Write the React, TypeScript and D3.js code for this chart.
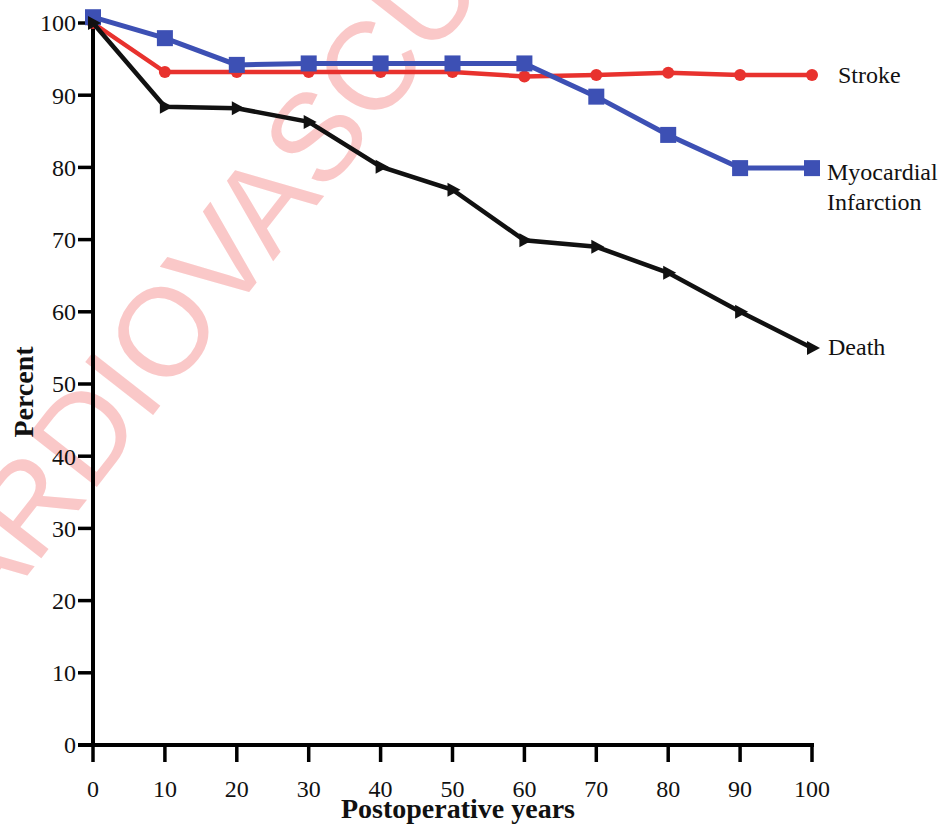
import React from "react";
import * as d3 from "d3";

const years = [0, 10, 20, 30, 40, 50, 60, 70, 80, 90, 100];
const strokeValues = [100, 93.2, 93.2, 93.2, 93.2, 93.2, 92.6, 92.8, 93.1, 92.8, 92.8];
const miValues = [100.8, 97.9, 94.2, 94.4, 94.4, 94.4, 94.4, 89.8, 84.5, 79.9, 79.9];
const deathValues = [100, 88.4, 88.2, 86.3, 80.1, 76.9, 69.9, 69.0, 65.4, 60.0, 55.0];
const xTicks = [0, 10, 20, 30, 40, 50, 60, 70, 80, 90, 100];
const yTicks = [0, 10, 20, 30, 40, 50, 60, 70, 80, 90, 100];

const W = 945;
const H = 825;
const serif = "'Liberation Serif', 'Times New Roman', serif";
const RED = "#e8322e";
const BLUE = "#3d50b4";
const BLACK = "#111";

export default function App() {
  const x = d3.scaleLinear().domain([0, 100]).range([93, 812]);
  const y = d3.scaleLinear().domain([0, 100]).range([745, 23]);
  const line = d3
    .line<[number, number]>()
    .x((d) => x(d[0]))
    .y((d) => y(d[1]));
  const pts = (vals: number[]) => years.map((t, i) => [t, vals[i]] as [number, number]);

  return (
    <svg
      width={W}
      height={H}
      style={{ position: "absolute", left: 0, top: 0, display: "block", background: "#fff" }}
    >
      <rect width={W} height={H} fill="#fff" />
      {/* watermark */}
      <text
        transform="translate(-72,703) rotate(-52)"
        fontFamily="'Liberation Sans', Arial, sans-serif"
        fontSize={125}
        fill="#fac8c8"
      >
        CARDIOVASCULAR
      </text>

      {/* axes */}
      <line x1={x(0)} x2={x(0)} y1={y(100) - 2} y2={y(0)} stroke="#000" strokeWidth={4} />
      <line x1={x(0) - 15} x2={x(100) + 2} y1={y(0)} y2={y(0)} stroke="#000" strokeWidth={4} />
      {yTicks.map((t) => (
        <g key={"y" + t}>
          <line x1={x(0) - 15} x2={x(0)} y1={y(t)} y2={y(t)} stroke="#000" strokeWidth={3.5} />
          <text
            x={x(0) - 17}
            y={y(t)}
            dy="0.35em"
            textAnchor="end"
            fontFamily={serif}
            fontSize={24}
            fill="#111"
          >
            {t}
          </text>
        </g>
      ))}
      {xTicks.map((t) => (
        <g key={"x" + t}>
          <line x1={x(t)} x2={x(t)} y1={y(0)} y2={y(0) + 17} stroke="#000" strokeWidth={3.5} />
          <text x={x(t)} y={797} textAnchor="middle" fontFamily={serif} fontSize={24} fill="#111">
            {t}
          </text>
        </g>
      ))}
      <text x={458} y={818} textAnchor="middle" fontFamily={serif} fontSize={28} fontWeight="bold" fill="#111">
        Postoperative years
      </text>
      <text
        transform="translate(33,392) rotate(-90)"
        textAnchor="middle"
        fontFamily={serif}
        fontSize={28}
        fontWeight="bold"
        fill="#111"
      >
        Percent
      </text>

      {/* Stroke */}
      <path d={line(pts(strokeValues)) || ""} fill="none" stroke={RED} strokeWidth={4.5} />
      {pts(strokeValues).map((d, i) => (
        <circle key={"s" + i} cx={x(d[0])} cy={y(d[1])} r={6} fill={RED} />
      ))}

      {/* MI */}
      <path d={line(pts(miValues)) || ""} fill="none" stroke={BLUE} strokeWidth={5} />
      {pts(miValues).map((d, i) => (
        <rect key={"m" + i} x={x(d[0]) - 8} y={y(d[1]) - 8} width={16} height={16} fill={BLUE} />
      ))}

      {/* Death */}
      <path d={line(pts(deathValues)) || ""} fill="none" stroke={BLACK} strokeWidth={4.5} />
      {pts(deathValues).map((d, i) => {
        const cx = x(d[0]);
        const cy = y(d[1]);
        return (
          <path
            key={"d" + i}
            d={`M${cx - 5},${cy - 7}L${cx + 8},${cy}L${cx - 5},${cy + 7}Z`}
            fill={BLACK}
          />
        );
      })}

      {/* labels */}
      <text x={838} y={83} fontFamily={serif} fontSize={24} fill="#111">
        Stroke
      </text>
      <text x={827} y={180} fontFamily={serif} fontSize={24} fill="#111">
        Myocardial
      </text>
      <text x={827} y={210} fontFamily={serif} fontSize={24} fill="#111">
        Infarction
      </text>
      <text x={828} y={355} fontFamily={serif} fontSize={24} fill="#111">
        Death
      </text>
    </svg>
  );
}
